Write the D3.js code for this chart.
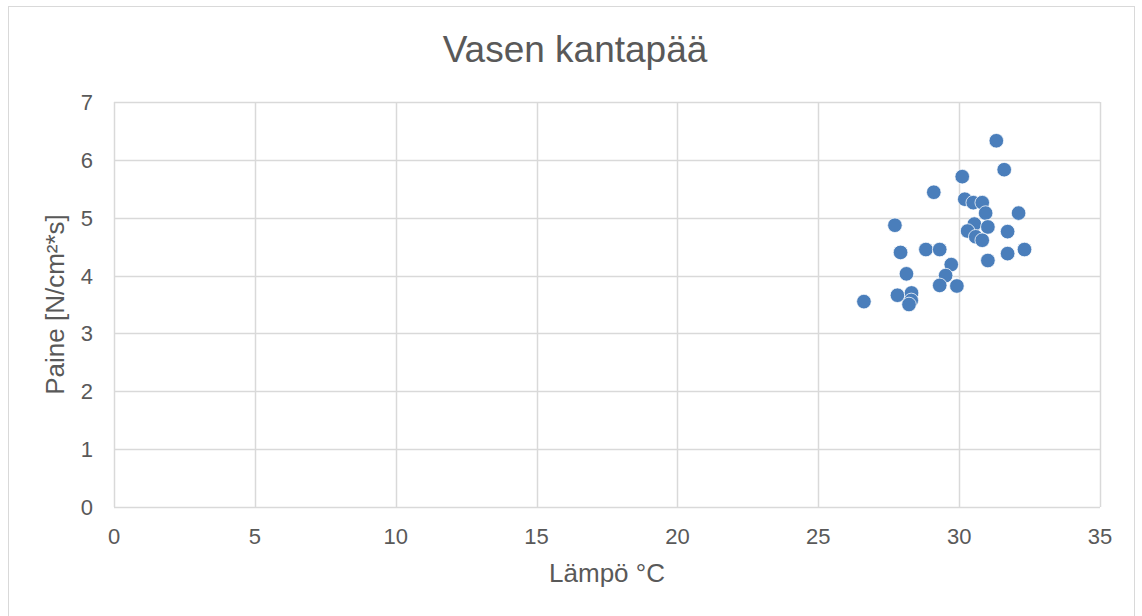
<!DOCTYPE html>
<html>
<head>
<meta charset="utf-8" />
<title>Vasen kantapää</title>
<script src="https://d3js.org/d3.v7.min.js"></script>
<style>
body { margin:0; background:#fff; }
text { font-family: "Liberation Sans", Arial, sans-serif; fill:#595959; }
</style>
</head>
<body>
<div id="chart"></div>
<script>

// temperature (°C)
var lampo = [31.32, 31.6, 30.11, 29.1, 30.2, 30.5, 30.82, 30.94, 32.11, 27.72,
             30.54, 31.02, 30.3, 31.72, 30.59, 30.82, 27.92, 28.82, 29.31, 31.72,
             32.32, 31.02, 29.72, 28.13, 29.52, 29.31, 29.92, 26.62, 27.81, 28.31,
             28.3, 28.22]
// pressure N/cm²*s
var paine = [6.33, 5.83, 5.71, 5.44, 5.32, 5.26, 5.26, 5.08, 5.08, 4.87,
             4.89, 4.84, 4.77, 4.76, 4.67, 4.61, 4.40, 4.45, 4.45, 4.38,
             4.45, 4.26, 4.19, 4.03, 4.0, 3.83, 3.82, 3.55, 3.66, 3.70,
             3.57, 3.50]
var xTicks = [0, 5, 10, 15, 20, 25, 30, 35]
var yTicks = [0, 1, 2, 3, 4, 5, 6, 7]

var width = 1142, height = 616
var plot = {left:114, right:1100, top:102, bottom:507}

var svg = d3.select("#chart").append("svg")
    .attr("width", width)
    .attr("height", height)

// outer chart border
svg.append("rect")
    .attr("x", 8.5).attr("y", 6.5)
    .attr("width", 1126).attr("height", 620)
    .attr("fill", "#fff")
    .attr("stroke", "#d9d9d9")
    .attr("stroke-width", 1)

var x = d3.scaleLinear().domain([0, 35]).range([plot.left, plot.right])
var y = d3.scaleLinear().domain([0, 7]).range([plot.bottom, plot.top])

// vertical gridlines
svg.append("g")
    .selectAll("line")
    .data(xTicks)
    .join("line")
    .attr("x1", function(d){ return Math.round(x(d)) + 0.5 })
    .attr("x2", function(d){ return Math.round(x(d)) + 0.5 })
    .attr("y1", plot.top)
    .attr("y2", plot.bottom)
    .attr("stroke", "#d9d9d9")
    .attr("stroke-width", 1.5)

// horizontal gridlines
svg.append("g")
    .selectAll("line")
    .data(yTicks)
    .join("line")
    .attr("x1", plot.left)
    .attr("x2", plot.right)
    .attr("y1", function(d){ return Math.round(y(d)) + 0.5 })
    .attr("y2", function(d){ return Math.round(y(d)) + 0.5 })
    .attr("stroke", "#d9d9d9")
    .attr("stroke-width", 1.5)

// x tick labels
svg.append("g")
    .selectAll("text")
    .data(xTicks)
    .join("text")
    .attr("x", function(d){ return x(d) })
    .attr("y", 544)
    .attr("text-anchor", "middle")
    .attr("font-size", 22)
    .text(function(d){ return d })

// y tick labels
svg.append("g")
    .selectAll("text")
    .data(yTicks)
    .join("text")
    .attr("x", 93)
    .attr("y", function(d){ return y(d) + 8 })
    .attr("text-anchor", "end")
    .attr("font-size", 22)
    .text(function(d){ return d })

// title
svg.append("text")
    .attr("x", 575)
    .attr("y", 62)
    .attr("text-anchor", "middle")
    .attr("font-size", 37)
    .text("Vasen kantapää")

// axis titles
svg.append("text")
    .attr("x", 607)
    .attr("y", 582)
    .attr("text-anchor", "middle")
    .attr("font-size", 26)
    .text("Lämpö °C")

svg.append("text")
    .attr("transform", "translate(64," + ((plot.top + plot.bottom)/2) + ") rotate(-90)")
    .attr("text-anchor", "middle")
    .attr("font-size", 26)
    .text("Paine [N/cm²*s]")

// points
svg.append("g")
    .selectAll("circle")
    .data(lampo)
    .join("circle")
    .attr("cx", function(d){ return x(d) })
    .attr("cy", function(d, i){ return y(paine[i]) })
    .attr("r", 7.3)
    .attr("fill", "#4a7ebb")
    .attr("stroke", "#fff")
    .attr("stroke-width", 0.75)

</script>
</body>
</html>
